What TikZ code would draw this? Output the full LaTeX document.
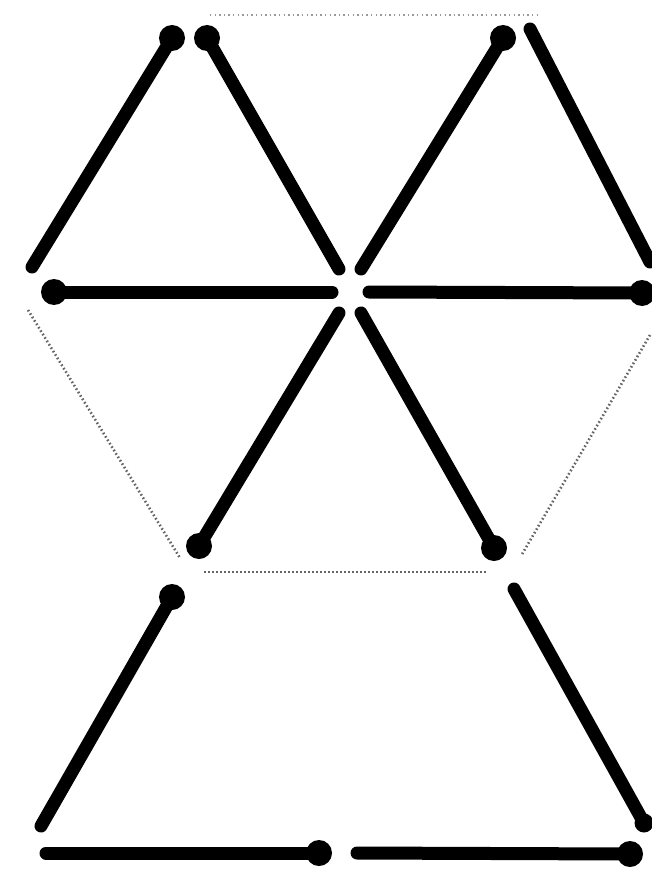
\documentclass[tikz,border=0pt]{standalone}
\begin{document}
\begin{tikzpicture}[x=1pt,y=-1pt,
  bar/.style={line width=13pt, line cap=round},
  blob/.style={circle, fill=black, inner sep=0pt, minimum size=26pt},
  smallblob/.style={circle, fill=black, inner sep=0pt, minimum size=19pt},
  faint/.style={black!60, line width=2.6pt, dash pattern=on 1.6pt off 2.4pt},
  fainter/.style={black!40, line width=2.2pt, dash pattern=on 1.4pt off 3.2pt}]
\useasboundingbox (0,0) rectangle (652,869);
\clip (0,0) rectangle (652,869);
% free ends
\coordinate (a1) at (32,267);
\coordinate (a2) at (339,269);
\coordinate (a3) at (332,292);
\coordinate (a4) at (361,269);
\coordinate (a5) at (530,29);
\coordinate (a6) at (650,262);
\coordinate (a7) at (369,292);
\coordinate (a8) at (339,313);
\coordinate (a9) at (361,313);
\coordinate (a10) at (41,826);
\coordinate (a11) at (514,589);
\coordinate (a13) at (46,853);
\coordinate (a14) at (357,853);
% dots
\node[blob] (n1) at (172,38) {};
\node[blob] (n2) at (207,38) {};
\node[blob] (n3) at (54,292) {};
\node[blob] (n4) at (503,38) {};
\node[blob] (n5) at (642,293) {};
\node[blob] (n6) at (199,546) {};
\node[blob] (n7) at (494,548) {};
\node[blob] (n8) at (172,597) {};
\node[smallblob] (n11) at (644,823) {};
\node[blob] (n9) at (319,853) {};
\node[blob] (n10) at (630,854) {};
% dotted outline
\coordinate (d1) at (210,15);
\coordinate (d2) at (537,15);
\coordinate (d3) at (28,310);
\coordinate (d4) at (180,558);
\coordinate (d5) at (204,572);
\coordinate (d6) at (486,572);
\coordinate (d7) at (650,335);
\coordinate (d8) at (521,556);
\draw[fainter] (d1) -- (d2);
\draw[faint] (d3) -- (d4);
\draw[faint] (d5) -- (d6);
\draw[faint] (d7) -- (d8);
% thick bars
\draw[bar] (a1) -- (n1.center);
\draw[bar] (n2.center) -- (a2);
\draw[bar] (n3.center) -- (a3);
\draw[bar] (a4) -- (n4.center);
\draw[bar] (a5) -- (a6);
\draw[bar] (a7) -- (n5.center);
\draw[bar] (a8) -- (n6.center);
\draw[bar] (a9) -- (n7.center);
\draw[bar] (n8.center) -- (a10);
\draw[bar] (a11) -- (n11.center);
\draw[bar] (a13) -- (n9.center);
\draw[bar] (a14) -- (n10.center);
\end{tikzpicture}
\end{document}
